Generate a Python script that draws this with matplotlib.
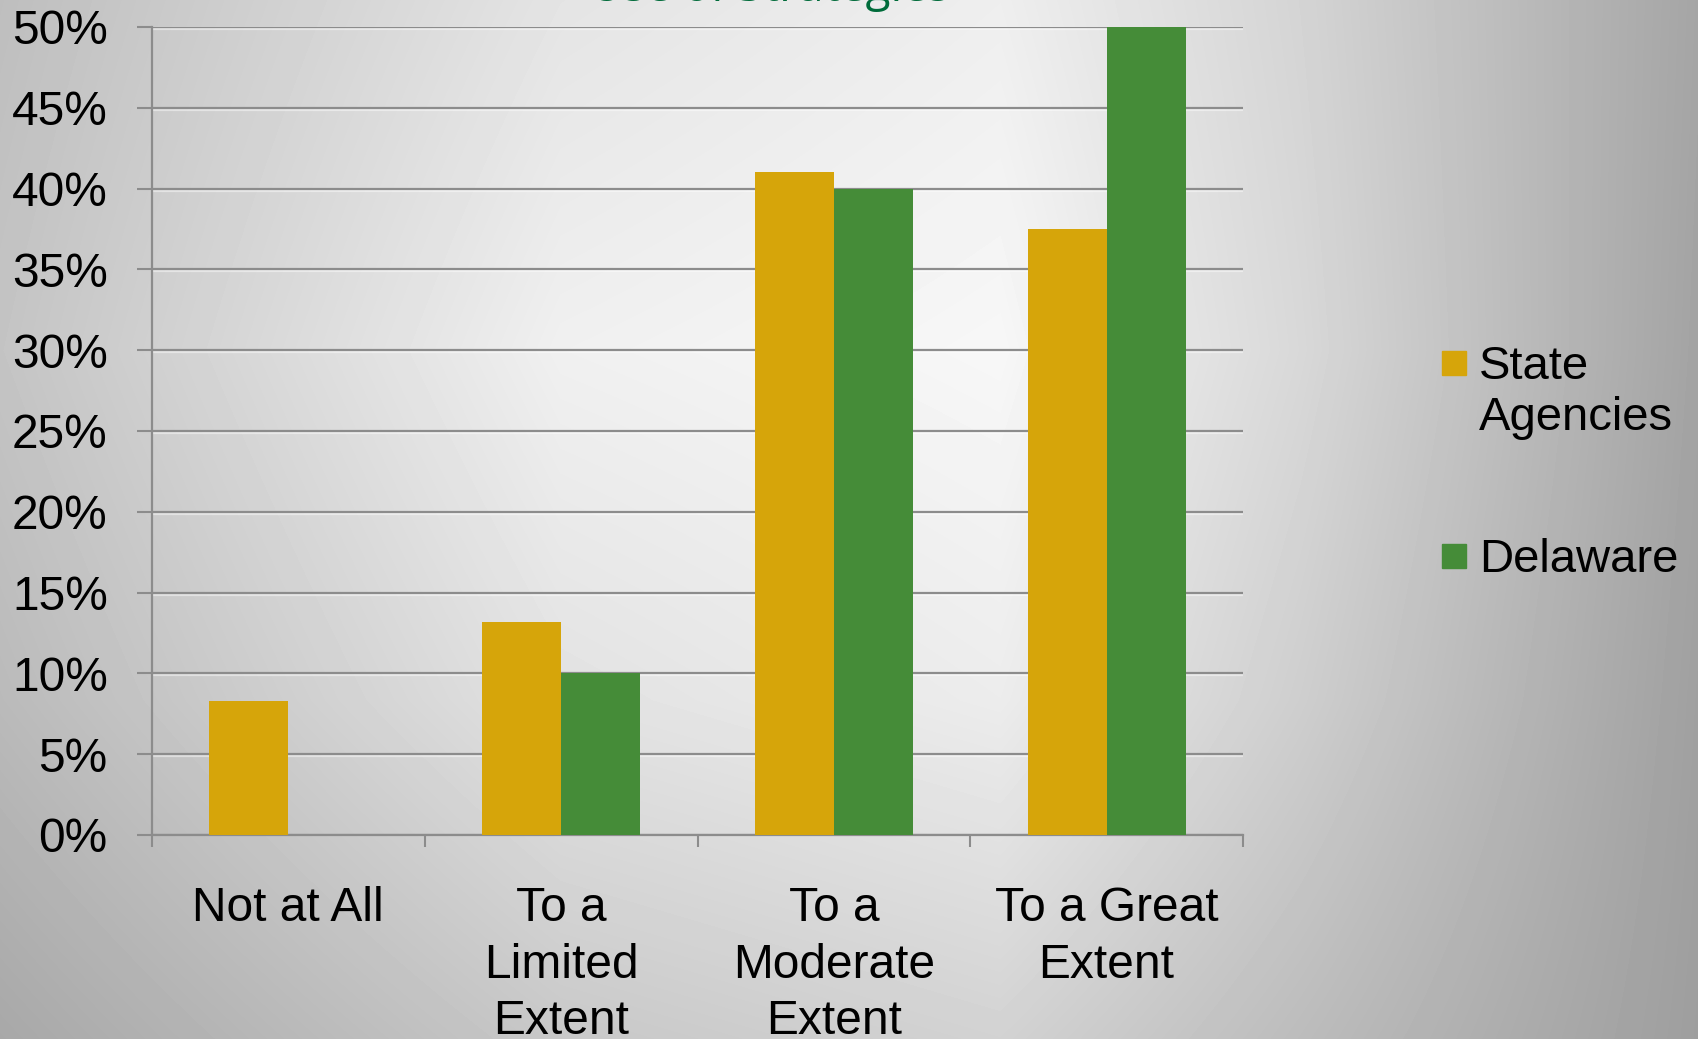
import numpy as np
import matplotlib
matplotlib.use("Agg")
import matplotlib.pyplot as plt
from matplotlib.patches import Rectangle
import matplotlib.patheffects as pe

# data
categories = ["Not at All", "To a\nLimited\nExtent", "To a\nModerate\nExtent", "To a Great\nExtent"]
series_names = ["State\nAgencies", "Delaware"]
state_agencies = [8.3, 13.2, 41.0, 37.5]
delaware = [0.0, 10.0, 40.0, 50.0]
y_ticks = [0, 5, 10, 15, 20, 25, 30, 35, 40, 45, 50]
title = "Use of Strategies"

YELLOW = "#D6A50A"
GREEN = "#458C38"
GRID = "#8C8C8C"

plt.rcParams['font.family'] = ['Liberation Sans', 'DejaVu Sans']

W, H = 1698, 1039
fig = plt.figure(figsize=(W / 100, H / 100), dpi=100)

# background: soft radial-ish grey gradient (bilinear from a coarse grid)
gx = np.array([0, 560, 1000, 1300, 1698])
gy = np.array([0, 350, 700, 1039])
gv = np.array([
    [190, 228, 238, 212, 165],
    [196, 240, 247, 216, 163],
    [186, 226, 236, 206, 160],
    [168, 200, 210, 188, 158],
], dtype=float)
xs = np.arange(W)
ys = np.arange(H)
rows = np.array([np.interp(xs, gx, r) for r in gv])
bg = np.array([np.interp(ys, gy, rows[:, i]) for i in range(W)]).T / 255.0
bg_ax = fig.add_axes([0, 0, 1, 1], zorder=-1)
bg_ax.imshow(bg, cmap="gray", vmin=0, vmax=1, aspect="auto", interpolation="bilinear")
bg_ax.axis("off")

# main axes
ax = fig.add_axes([152 / W, 1 - 835 / H, (1243 - 152) / W, (835 - 27) / H])
ax.patch.set_alpha(0)

x = np.arange(len(categories))
bw = 0.29
ax.bar(x - bw / 2, state_agencies, bw, color=YELLOW, zorder=3)
ax.bar(x + bw / 2, delaware, bw, color=GREEN, zorder=3)

ax.set_xlim(-0.5, len(categories) - 0.5)
ax.set_ylim(0, 50)
ax.set_yticks(y_ticks)
ax.set_yticklabels([f"{v}%" for v in y_ticks], fontsize=34.5)
ax.tick_params(axis="y", length=10.8, width=1.5, color=GRID, pad=21)

ax.set_xticks(np.arange(len(categories) + 1) - 0.5)
ax.set_xticklabels([])
ax.tick_params(axis="x", which="major", length=8.6, width=1.5, color=GRID)
ax.set_xticks(x, minor=True)
ax.set_xticklabels(categories, minor=True, fontsize=34.5, linespacing=1.33)
ax.tick_params(axis="x", which="minor", length=0, pad=37)

ax.set_axisbelow(True)
ax.yaxis.grid(True, color=GRID, linewidth=1.6,
              path_effects=[pe.SimpleLineShadow(offset=(0, -1.4), shadow_color="white", alpha=0.45),
                            pe.Normal()])

for s in ["top", "right"]:
    ax.spines[s].set_visible(False)
for s in ["left", "bottom"]:
    ax.spines[s].set_color(GRID)
    ax.spines[s].set_linewidth(1.6)

# legend drawn by hand so the marker sits on the first text line
leg_colors = [YELLOW, GREEN]
leg_marker_mid = [363, 556]
for name, col, mid in zip(series_names, leg_colors, leg_marker_mid):
    fig.add_artist(Rectangle((1442 / W, 1 - (mid + 12) / H), 24 / W, 24 / H,
                             transform=fig.transFigure, color=col))
    fig.text(1479 / W, 1 - (mid - 18) / H, name, fontsize=34, va="top", ha="left",
             linespacing=1.22)

# title, mostly cut off at the top edge in the reference
fig.text(950 / W, 1 - 1.2 / H, title, fontsize=33, color="#006B3A",
         family="Open Sans", ha="right", va="baseline")

fig.savefig("out.png", dpi=100)
